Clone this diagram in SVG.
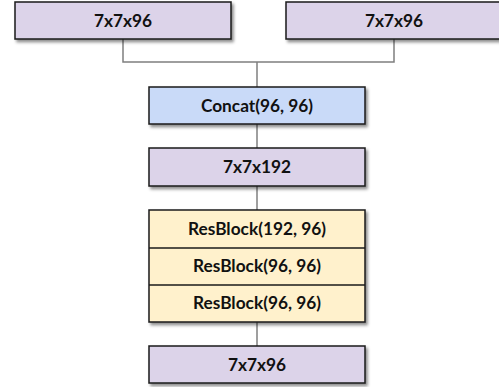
<svg xmlns="http://www.w3.org/2000/svg" width="499" height="387" viewBox="0 0 499 387">
<defs>
<filter id="sh" x="-10%" y="-20%" width="130%" height="160%">
<feDropShadow dx="2" dy="2.5" stdDeviation="1.5" flood-color="#000" flood-opacity="0.45"/>
</filter>
<style>
.box{stroke:#1a1a1a;stroke-width:1.5}
.p{fill:#DCD3E9}
.b{fill:#C9DAF8}
.y{fill:#FFF1CC}
.t{font-family:Lato,"Open Sans","Liberation Sans",sans-serif;font-weight:bold;font-size:17.3px;fill:#111;text-anchor:middle}
.c{fill:none;stroke:#7f7f7f;stroke-width:1.5}
</style>
</defs>
<rect width="499" height="387" fill="#fff"/>
<g id="connectors">
<polyline class="c" points="123,39 123,62 394,62 394,39"/>
<line class="c" x1="257" y1="62" x2="257" y2="87"/>
<line class="c" x1="257" y1="124" x2="257" y2="148"/>
<line class="c" x1="257" y1="186" x2="257" y2="210"/>
<line class="c" x1="257" y1="322" x2="257" y2="346"/>
</g>
<g id="in1">
<rect class="box p" x="15" y="2" width="216" height="37" filter="url(#sh)"/>
<text class="t" x="123" y="26.5">7x7x96</text>
</g>
<g id="in2">
<rect class="box p" x="286" y="2" width="216" height="37" filter="url(#sh)"/>
<text class="t" x="394" y="26.5">7x7x96</text>
</g>
<g id="concat">
<rect class="box b" x="149" y="87" width="216" height="37" filter="url(#sh)"/>
<text class="t" x="257" y="111.5">Concat(96, 96)</text>
</g>
<g id="mid">
<rect class="box p" x="149" y="148" width="216" height="38" filter="url(#sh)"/>
<text class="t" x="257" y="173">7x7x192</text>
</g>
<g id="resblocks">
<rect class="box y" x="149" y="210" width="216" height="112" filter="url(#sh)"/>
<line class="box" x1="149" y1="248" x2="365" y2="248"/>
<line class="box" x1="149" y1="285" x2="365" y2="285"/>
<text class="t" x="257" y="234.5">ResBlock(192, 96)</text>
<text class="t" x="257" y="271.5">ResBlock(96, 96)</text>
<text class="t" x="257" y="308.5">ResBlock(96, 96)</text>
</g>
<g id="out">
<rect class="box p" x="149" y="346" width="216" height="37" filter="url(#sh)"/>
<text class="t" x="257" y="370.5">7x7x96</text>
</g>
</svg>
